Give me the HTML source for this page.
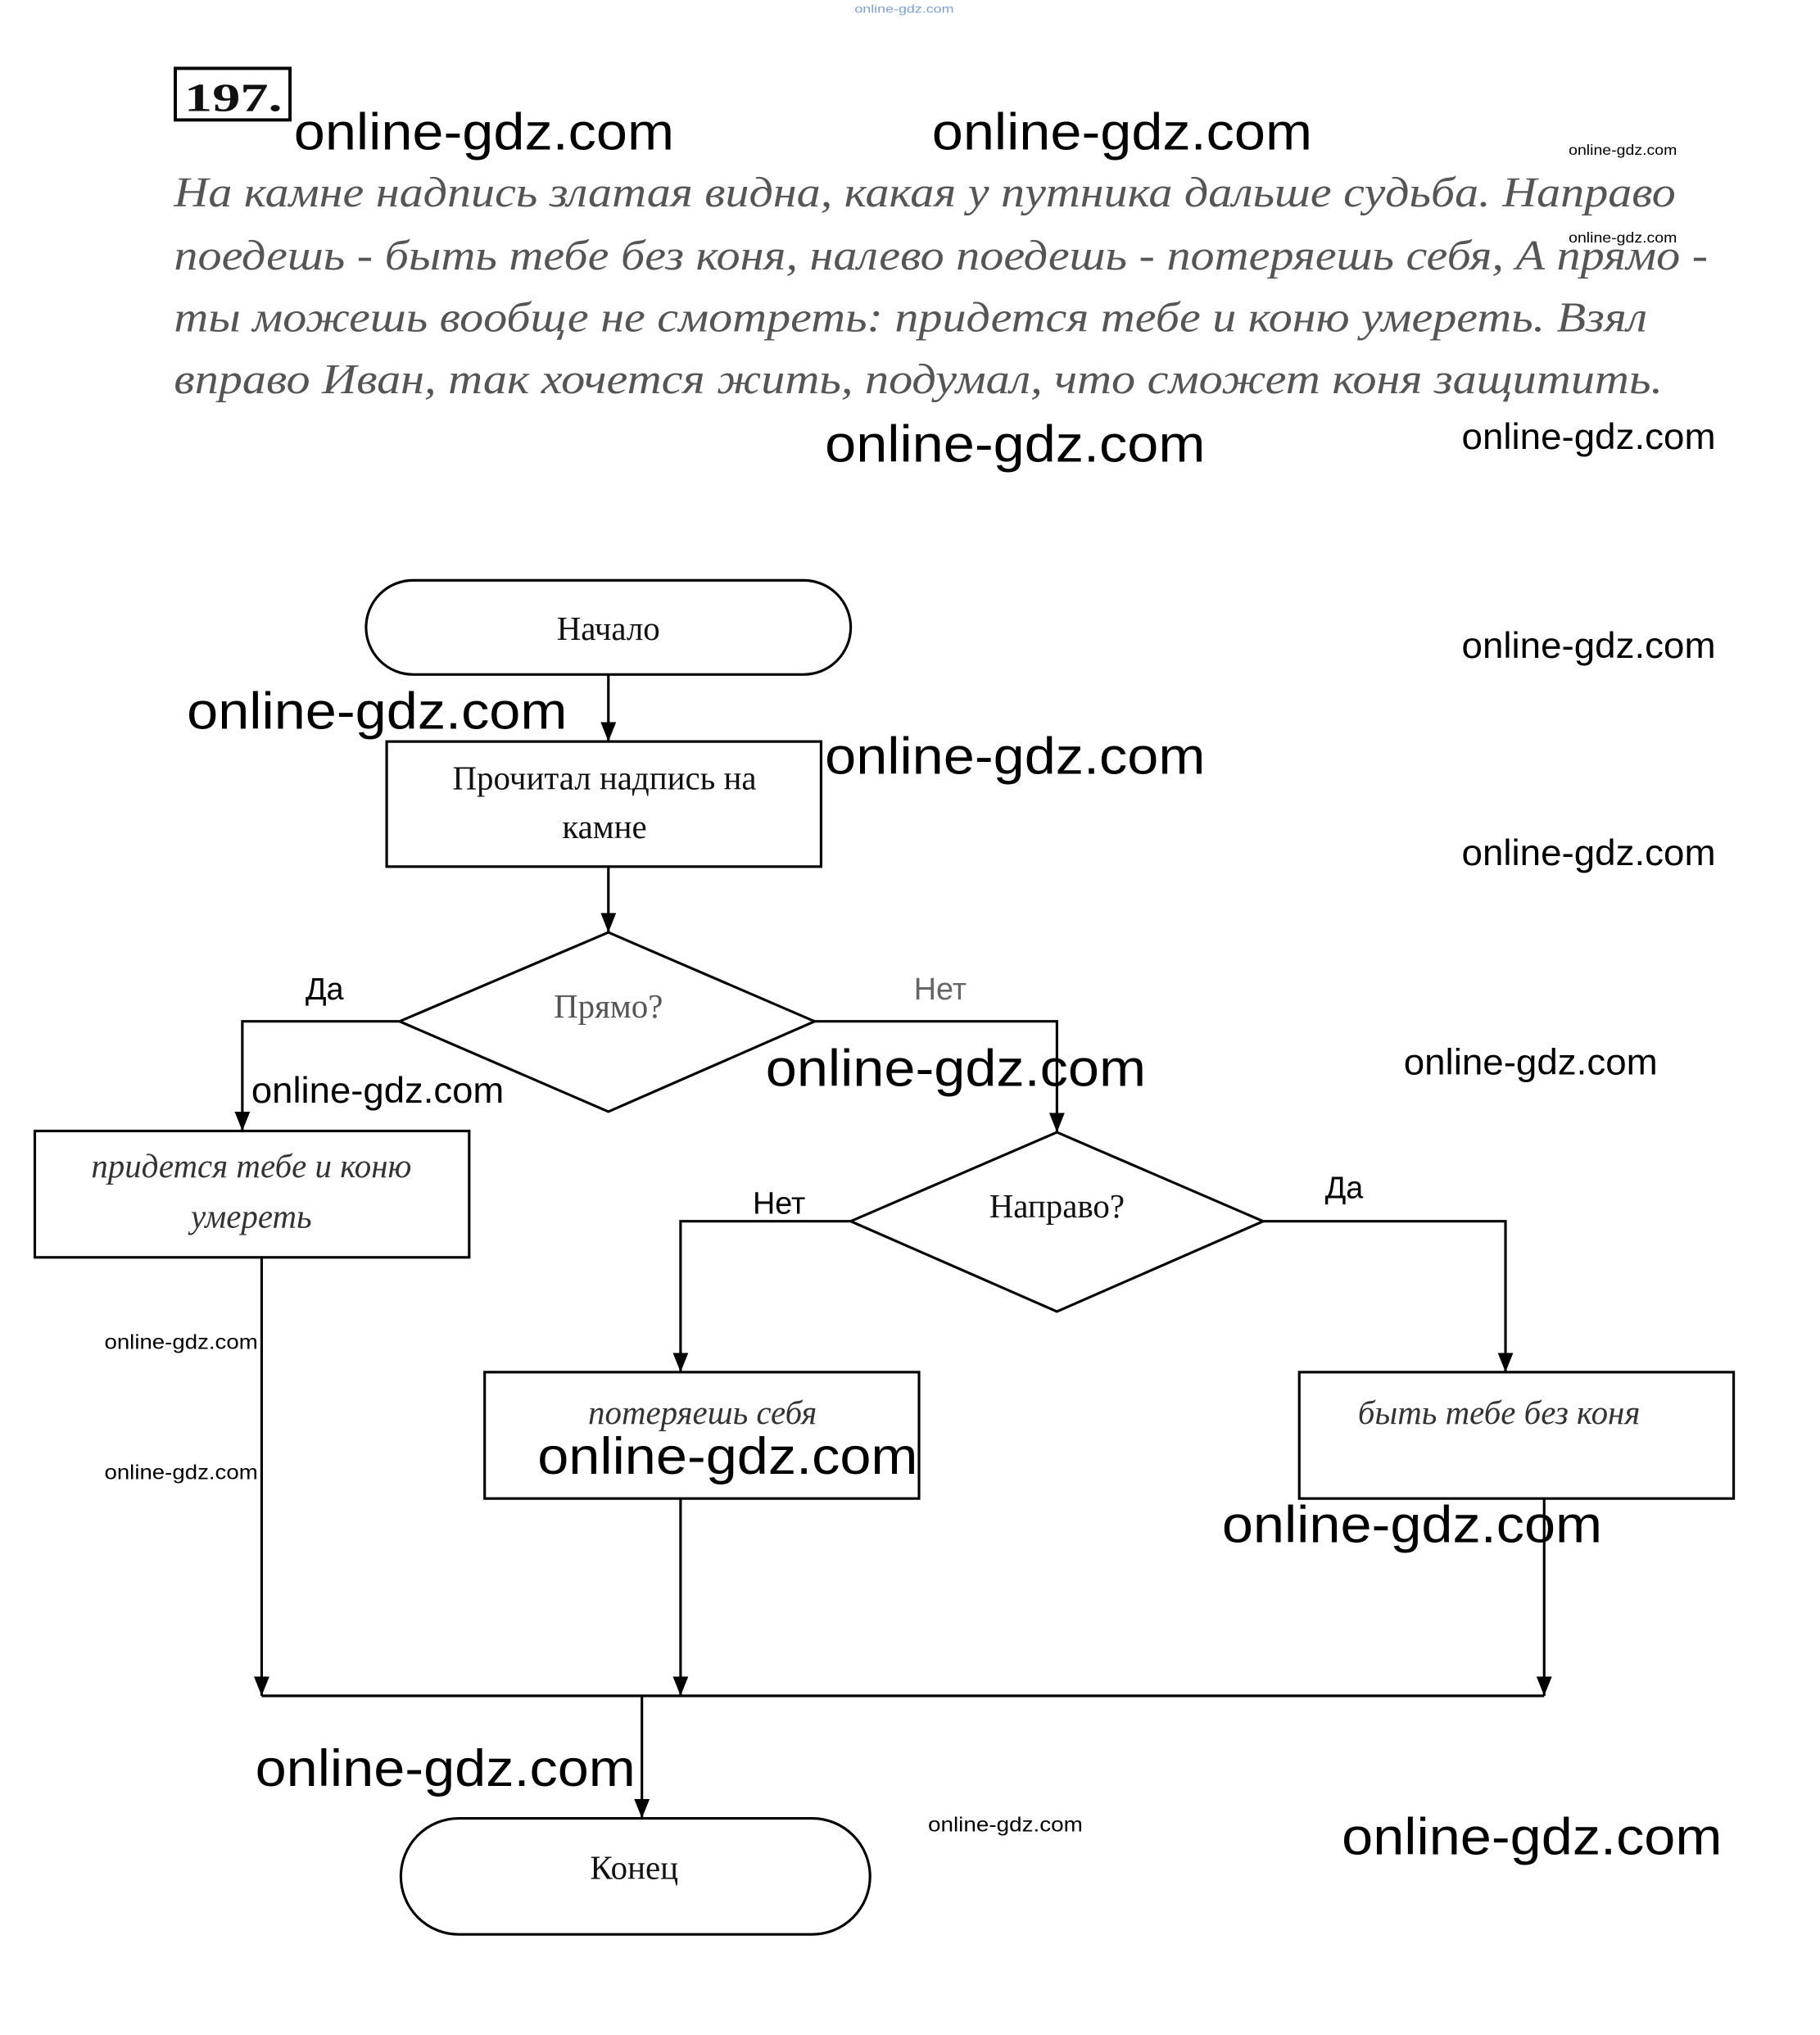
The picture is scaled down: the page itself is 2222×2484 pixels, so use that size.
<!DOCTYPE html>
<html><head><meta charset="utf-8"><style>
html,body{margin:0;padding:0;background:#fff;}
svg{display:block;}
.wm{font-family:"Liberation Sans",sans-serif;fill:#000;}
.sr{font-family:"Liberation Serif","Noto Serif CJK SC",serif;fill:#111;}
.it{font-family:"Liberation Serif","Noto Serif CJK SC",serif;font-style:italic;fill:#555;}
</style></head><body>
<svg width="2222" height="2484" viewBox="0 0 1412 1578" preserveAspectRatio="none" xmlns="http://www.w3.org/2000/svg">
<defs><marker id="a" markerWidth="16" markerHeight="12" refX="15" refY="6" orient="auto" markerUnits="userSpaceOnUse"><path d="M0,0 L15,6 L0,12 Z" fill="#000"/></marker></defs>
<rect width="1412" height="1578" fill="#fff"/>
<text x="663" y="10" font-size="9" fill="#7aa0e0" font-family="Liberation Sans,sans-serif" textLength="77" lengthAdjust="spacingAndGlyphs">online-gdz.com</text>
<rect x="136" y="53" width="89" height="40" fill="none" stroke="#000" stroke-width="2.5"/>
<text x="143" y="86" font-size="31" font-weight="bold" class="sr" textLength="76" lengthAdjust="spacingAndGlyphs">197.</text>

<g class="wm" font-size="40">
<text x="228" y="116" textLength="295" lengthAdjust="spacingAndGlyphs">online-gdz.com</text>
<text x="723" y="116" textLength="295" lengthAdjust="spacingAndGlyphs">online-gdz.com</text>
<text x="640" y="358" textLength="295" lengthAdjust="spacingAndGlyphs">online-gdz.com</text>
<text x="145" y="565" textLength="295" lengthAdjust="spacingAndGlyphs">online-gdz.com</text>
<text x="640" y="600" textLength="295" lengthAdjust="spacingAndGlyphs">online-gdz.com</text>
<text x="594" y="842" textLength="295" lengthAdjust="spacingAndGlyphs">online-gdz.com</text>
<text x="417" y="1143" textLength="295" lengthAdjust="spacingAndGlyphs">online-gdz.com</text>
<text x="948" y="1196" textLength="295" lengthAdjust="spacingAndGlyphs">online-gdz.com</text>
<text x="198" y="1385" textLength="295" lengthAdjust="spacingAndGlyphs">online-gdz.com</text>
<text x="1041" y="1438" textLength="295" lengthAdjust="spacingAndGlyphs">online-gdz.com</text>
</g>
<g class="wm" font-size="28">
<text x="1134" y="348" textLength="197" lengthAdjust="spacingAndGlyphs">online-gdz.com</text>
<text x="1134" y="510" textLength="197" lengthAdjust="spacingAndGlyphs">online-gdz.com</text>
<text x="1134" y="671" textLength="197" lengthAdjust="spacingAndGlyphs">online-gdz.com</text>
<text x="1089" y="833" textLength="197" lengthAdjust="spacingAndGlyphs">online-gdz.com</text>
<text x="195" y="855" textLength="196" lengthAdjust="spacingAndGlyphs">online-gdz.com</text>
</g>
<g class="wm" font-size="16">
<text x="81" y="1046" textLength="119" lengthAdjust="spacingAndGlyphs">online-gdz.com</text>
<text x="81" y="1147" textLength="119" lengthAdjust="spacingAndGlyphs">online-gdz.com</text>
<text x="720" y="1420" textLength="120" lengthAdjust="spacingAndGlyphs">online-gdz.com</text>
</g>
<g class="wm" font-size="11">
<text x="1217" y="120" textLength="84" lengthAdjust="spacingAndGlyphs">online-gdz.com</text>
<text x="1217" y="188" textLength="84" lengthAdjust="spacingAndGlyphs">online-gdz.com</text>
</g>

<g class="it" font-size="33">
<text x="135" y="160" textLength="1165" lengthAdjust="spacingAndGlyphs">На камне надпись златая видна, какая у путника дальше судьба. Направо</text>
<text x="135" y="209" textLength="1190" lengthAdjust="spacingAndGlyphs">поедешь - быть тебе без коня, налево поедешь - потеряешь себя, А прямо -</text>
<text x="135" y="257" textLength="1143" lengthAdjust="spacingAndGlyphs">ты можешь вообще не смотреть: придется тебе и коню умереть. Взял</text>
<text x="135" y="305" textLength="1155" lengthAdjust="spacingAndGlyphs">вправо Иван, так хочется жить, подумал, что сможет коня защитить.</text>
</g>

<g fill="none" stroke="#000" stroke-width="2">
<rect x="284" y="450" width="376" height="73" rx="36.5"/>
<rect x="300" y="575" width="337" height="97"/>
<polygon points="472,723 632,792 472,862 310,792"/>
<rect x="27" y="877" width="337" height="98"/>
<polygon points="820,878 980,947 820,1017 660,947"/>
<rect x="376" y="1064" width="337" height="98"/>
<rect x="1008" y="1064" width="337" height="98"/>
<rect x="311" y="1410" width="364" height="90" rx="45"/>
<line x1="472" y1="523" x2="472" y2="575" marker-end="url(#a)"/>
<line x1="472" y1="672" x2="472" y2="723" marker-end="url(#a)"/>
<polyline points="310,792 188,792 188,877" marker-end="url(#a)"/>
<polyline points="632,792 820,792 820,878" marker-end="url(#a)"/>
<polyline points="660,947 528,947 528,1064" marker-end="url(#a)"/>
<polyline points="980,947 1168,947 1168,1064" marker-end="url(#a)"/>
<line x1="203" y1="975" x2="203" y2="1315" marker-end="url(#a)"/>
<line x1="528" y1="1162" x2="528" y2="1315" marker-end="url(#a)"/>
<line x1="1198" y1="1162" x2="1198" y2="1315" marker-end="url(#a)"/>
<line x1="203" y1="1315" x2="1198" y2="1315"/>
<line x1="498" y1="1315" x2="498" y2="1410" marker-end="url(#a)"/>
</g>

<g class="sr" font-size="26" text-anchor="middle">
<text x="472" y="496">Начало</text>
<text x="469" y="612">Прочитал надпись на</text>
<text x="469" y="650">камне</text>
<text x="472" y="789" fill="#555">Прямо?</text>
<text x="820" y="944">Направо?</text>
<text x="492" y="1457">Конец</text>
</g>
<g class="it" font-size="26" text-anchor="middle" style="fill:#333">
<text x="195" y="913">придется тебе и коню</text>
<text x="195" y="952">умереть</text>
<text x="545" y="1104">потеряешь себя</text>
<text x="1163" y="1104">быть тебе без коня</text>
</g>
<g class="wm" font-size="24">
<text x="237" y="775">Да</text>
<text x="709" y="775" style="fill:#666">Нет</text>
<text x="584" y="941">Нет</text>
<text x="1028" y="929">Да</text>
</g>
</svg>
</body></html>
